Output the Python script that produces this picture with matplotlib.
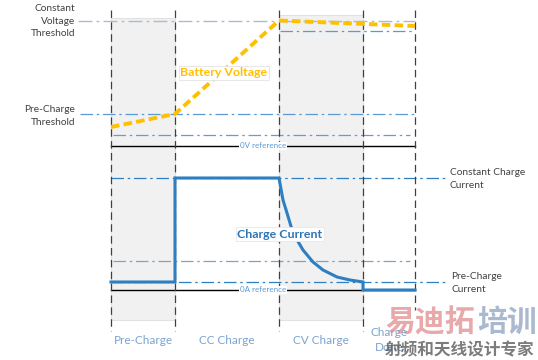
import matplotlib
matplotlib.use("Agg")
import matplotlib.pyplot as plt

plt.rcParams['font.family'] = ['Lato', 'DejaVu Sans']

# diagram units: x = time, y = level (drawn top-down like the slide)
phase_edges = [111, 175, 279, 363, 415]
phase_labels = ['Pre-Charge', 'CC Charge', 'CV Charge', 'Charge\nDone']
shaded = [0, 2]

volt_t = [111, 175, 279, 415]
volt_v = [127, 114, 20.5, 26]

curr_t = [111, 175, 175, 279, 283, 287, 293, 303, 313, 323, 337, 350, 363, 363, 415]
curr_i = [282, 282, 178, 178, 200, 213, 233, 250, 262, 270, 277, 280, 282, 290, 290]

# reference levels
cv_threshold = 21
cv_band = 31
pre_threshold = 114
low_voltage = 135
zero_volt = 146
cc_level = 178
term_current = 261
pre_current = 282
zero_amp = 290

fig = plt.figure(figsize=(5.38, 3.6), dpi=100)
ax = fig.add_axes([0, 0, 1, 1])
ax.set_xlim(0, 538)
ax.set_ylim(360, 0)
ax.axis('off')

# shaded phases
for k in shaded:
    top = 18 if k == 0 else 15
    ax.fill_between([phase_edges[k], phase_edges[k + 1]], top, 320,
                    facecolor='#F1F1F1', edgecolor='#E2E2E2', lw=0.8, zorder=0)

# phase separators
for i, xe in enumerate(phase_edges):
    bottom = 310 if i == len(phase_edges) - 1 else 331
    ax.plot([xe, xe], [10, bottom], color='#404040', lw=0.9,
            ls=(0, (6, 3.5)), zorder=2)

dd = (0, (10, 3, 2, 3))
# horizontal guides
ax.plot([78, 415], [cv_threshold] * 2, color='#A9BCD2', lw=1, ls=dd, zorder=1)
ax.plot([280, 415], [cv_band] * 2, color='#5B9BD5', lw=0.9, ls=dd, zorder=1)
ax.plot([80, 415], [pre_threshold] * 2, color='#5B9BD5', lw=0.9, ls=dd, zorder=1)
ax.plot([113, 410], [low_voltage] * 2, color='#6A9CCB', lw=0.9, ls=dd, zorder=1)
ax.plot([111, 445], [cc_level] * 2, color='#2E7EC2', lw=0.9, ls=dd, zorder=1)
ax.plot([113, 410], [term_current] * 2, color='#7FA3C8', lw=0.9, ls=dd, zorder=1)
ax.plot([111, 445], [pre_current] * 2, color='#2E7EC2', lw=0.9, ls=dd, zorder=1)

# zero references
ax.plot([111, 415], [zero_volt] * 2, color='black', lw=1, zorder=1)
ax.plot([111, 415], [zero_amp] * 2, color='black', lw=1, zorder=1)
ax.text(263, zero_volt, '0V reference', fontsize=5.8, color='#5B9BD5',
        ha='center', va='center', zorder=3,
        bbox=dict(facecolor='white', edgecolor='none', pad=0.3))
ax.text(263, zero_amp, '0A reference', fontsize=5.8, color='#5B9BD5',
        ha='center', va='center', zorder=3,
        bbox=dict(facecolor='white', edgecolor='none', pad=0.3))

# curves
ax.plot(volt_t, volt_v, color='#FFC000', lw=2.8, ls=(0, (2.2, 1.1)),
        dash_capstyle='butt', zorder=4)
ax.plot(curr_t, curr_i, color='#2E7EC2', lw=2.2, zorder=4,
        solid_joinstyle='miter')

ax.text(224, 73, 'Battery Voltage', fontsize=8.9, fontweight='bold',
        color='#FFC000', ha='center', va='center', zorder=5,
        bbox=dict(facecolor='white', edgecolor='#E4E4E4', lw=0.6, pad=1.2))
ax.text(280, 234, 'Charge Current', fontsize=8.9, fontweight='bold',
        color='#2E75B6', ha='center', va='center', zorder=5,
        bbox=dict(facecolor='white', edgecolor='#E8E8E8', lw=0.6, pad=1.2))

# side labels
lab = dict(fontsize=7.3, color='#404040', linespacing=1.45)
ax.text(75, 21, 'Constant\nVoltage\nThreshold', ha='right', va='center', **lab)
ax.text(75, 116, 'Pre-Charge\nThreshold', ha='right', va='center', **lab)
ax.text(450, 179, 'Constant Charge\nCurrent', ha='left', va='center', **lab)
ax.text(451, 283, 'Pre-Charge\nCurrent', ha='left', va='center', **lab)

# phase names
for i, name in enumerate(phase_labels):
    xc = (phase_edges[i] + phase_edges[i + 1]) / 2
    ax.text(xc, 340, name, fontsize=8.5, color='#7AA3D2',
            ha='center', va='center', linespacing=1.4, zorder=5)

# watermark (sits over the last phase label, as in the source)
ax.text(385, 322, '易迪拓', fontsize=21.5, fontweight='bold', color='#E08C8C',
        alpha=0.75, family=['Noto Sans CJK SC'], ha='left', va='center', zorder=6)
ax.text(477, 322, '培训', fontsize=21.5, fontweight='bold', color='#8FA2C0',
        alpha=0.75, family=['Noto Sans CJK SC'], ha='left', va='center', zorder=6)
ax.text(385, 350, '射频和天线设计专家', fontsize=12, fontweight='bold',
        color='#505050', alpha=0.75, family=['Noto Sans CJK SC'],
        ha='left', va='center', zorder=6)

fig.savefig('out.png', dpi=100)
